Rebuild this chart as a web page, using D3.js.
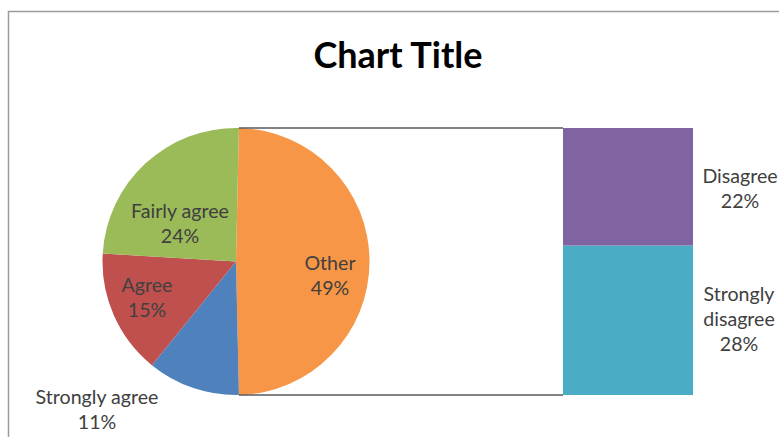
<!DOCTYPE html>
<html>
<head>
<meta charset="utf-8">
<script src="https://cdn.jsdelivr.net/npm/d3@7"></script>
<style>
  html, body { margin: 0; padding: 0; background: #fff; }
  svg { display: block; }
</style>
</head>
<body>
<svg id="chart" width="779" height="437"></svg>
<script>
// Survey responses (percent of all answers)
const pieCategories = ["Strongly agree", "Agree", "Fairly agree"];
const pieValues = [11.2, 15.1, 24.4];
const barCategories = ["Strongly disagree", "Disagree"];
const barValues = [27.6, 21.7];
const otherLabel = "Other";
const titleText = "Chart Title";

const colors = {
  "Strongly agree": "#4F81BD",
  "Agree": "#C0504D",
  "Fairly agree": "#9BBB59",
  "Disagree": "#8064A2",
  "Strongly disagree": "#4BACC6",
  "Other": "#F79646"
};

const svg = d3.select("#chart");
const font = "Lato, 'Open Sans', sans-serif";
const textColor = "#404040";

// chart area frame
svg.append("rect")
  .attr("x", 8.5).attr("y", 11.5)
  .attr("width", 900).attr("height", 600)
  .attr("fill", "#fff")
  .attr("stroke", "#9a9a9a").attr("stroke-width", 1.5);

// title
svg.append("text")
  .attr("x", 398).attr("y", 68)
  .attr("text-anchor", "middle")
  .attr("font-family", font).attr("font-weight", 700)
  .attr("font-size", 36).attr("fill", "#000")
  .text(titleText);

// pie: "Other" groups the bar categories and sits centred on the right
const otherValue = d3.sum(barValues);
const pieData = [{ name: otherLabel, value: otherValue }]
  .concat(pieCategories.map((c, i) => ({ name: c, value: pieValues[i] })));
const total = d3.sum(pieData, d => d.value);
const otherSweep = otherValue / total * 2 * Math.PI;
const startA = Math.PI / 2 - otherSweep / 2;

const cx = 236, cy = 261.5, r = 133.5;
const pie = d3.pie().sort(null).value(d => d.value)
  .startAngle(startA).endAngle(startA + 2 * Math.PI);
const arcs = pie(pieData);
const arc = d3.arc().innerRadius(0).outerRadius(r);

const gPie = svg.append("g").attr("transform", `translate(${cx},${cy})`);
gPie.selectAll("path").data(arcs).join("path")
  .attr("d", arc)
  .attr("fill", d => colors[d.data.name]);

// stacked bar of the "Other" breakdown
const barX0 = 563, barX1 = 693;
const y = d3.scaleLinear().domain([0, otherValue]).range([cy + r, cy - r]);
let acc = 0;
const stack = barCategories.map((c, i) => {
  const s = { name: c, v0: acc, v1: acc + barValues[i], value: barValues[i] };
  acc += barValues[i];
  return s;
});
svg.append("g").selectAll("rect").data(stack).join("rect")
  .attr("x", barX0).attr("width", barX1 - barX0)
  .attr("y", d => y(d.v1)).attr("height", d => y(d.v0) - y(d.v1))
  .attr("fill", d => colors[d.name]);

// connector lines from the "Other" slice edges to the bar corners
const otherArc = arcs[0];
const edge = a => [cx + r * Math.sin(a), cy - r * Math.cos(a)];
const pTop = edge(otherArc.startAngle);
const pBot = edge(otherArc.endAngle);
const conn = svg.append("g").attr("stroke", "#595959").attr("stroke-width", 1.5).attr("fill", "none");
conn.append("line").attr("x1", pTop[0]).attr("y1", pTop[1]).attr("x2", barX0).attr("y2", y(otherValue));
conn.append("line").attr("x1", pBot[0]).attr("y1", pBot[1]).attr("x2", barX0).attr("y2", y(0));

// data labels
const pct = v => Math.round(v / total * 100) + "%";
const labelPos = {
  "Other": { x: 330, y: 270, lines: ["Other"] },
  "Fairly agree": { x: 180, y: 218, lines: ["Fairly agree"] },
  "Agree": { x: 147, y: 292, lines: ["Agree"] },
  "Strongly agree": { x: 97, y: 404, lines: ["Strongly agree"] },
  "Disagree": { x: 740, y: 183, lines: ["Disagree"] },
  "Strongly disagree": { x: 739, y: 301, lines: ["Strongly", "disagree"] }
};
const labelData = pieData.concat(barCategories.map((c, i) => ({ name: c, value: barValues[i] })));
const lineH = 25;
const gLab = svg.append("g")
  .attr("font-family", font).attr("font-size", 19.6)
  .attr("fill", textColor).attr("text-anchor", "middle");
labelData.forEach(d => {
  const p = labelPos[d.name];
  const t = gLab.append("text").attr("x", p.x).attr("y", p.y);
  p.lines.concat([pct(d.value)]).forEach((ln, i) => {
    t.append("tspan").attr("x", p.x).attr("dy", i === 0 ? 0 : lineH).text(ln);
  });
});
</script>
</body>
</html>
